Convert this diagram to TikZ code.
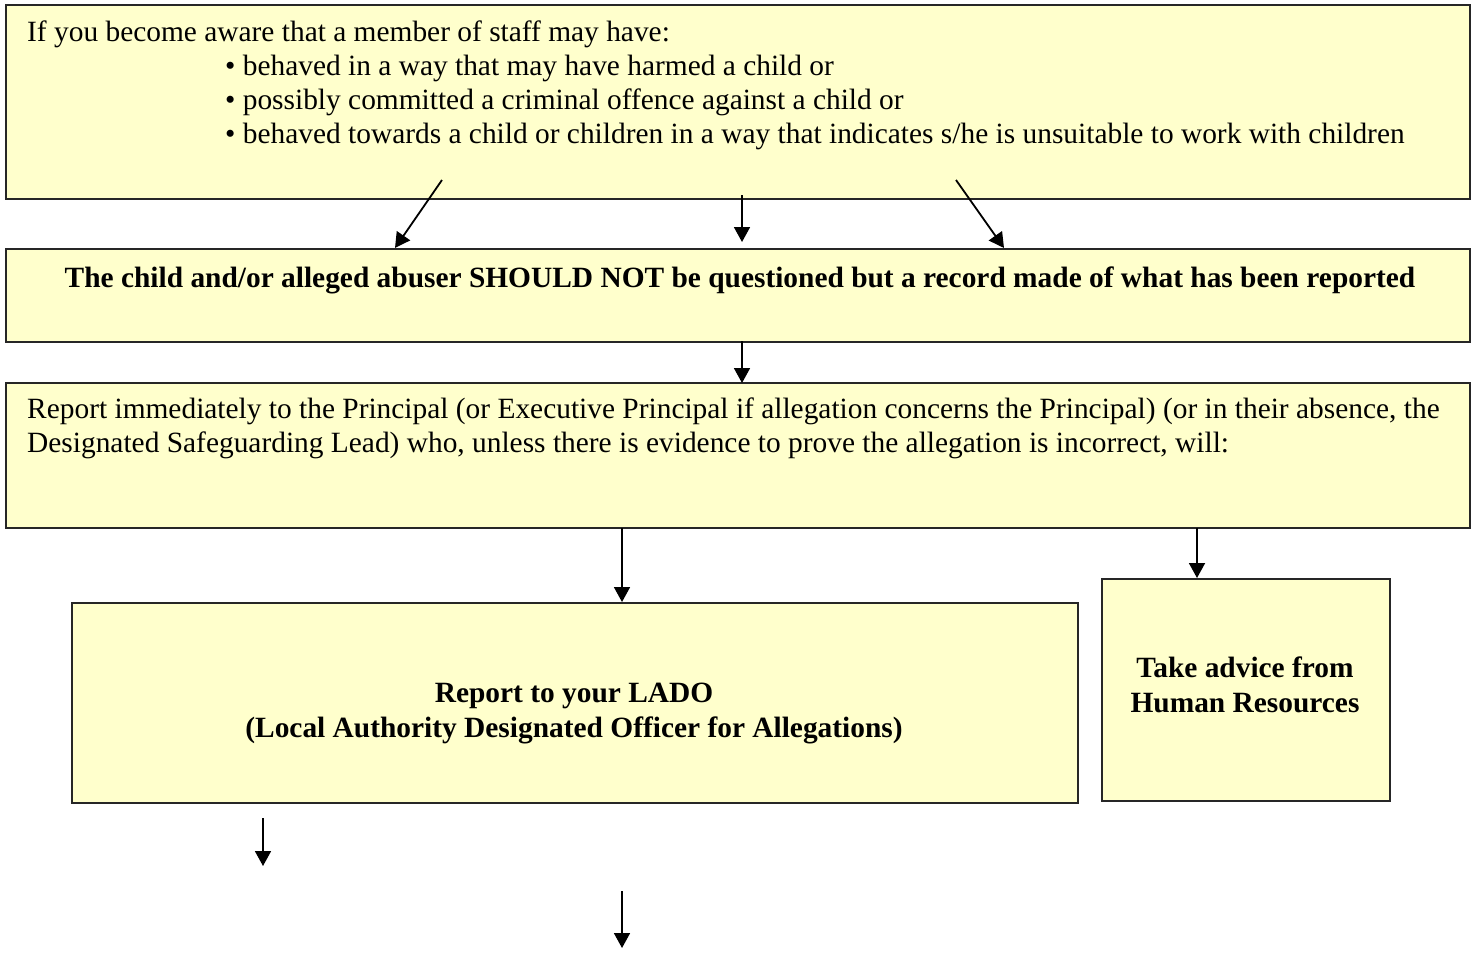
\documentclass[tikz,border=0pt]{standalone}
\usepackage{fontspec}
\setmainfont{Liberation Serif}
\usetikzlibrary{arrows.meta,positioning}
\definecolor{boxyellow}{HTML}{FFFFCC}
\tikzset{
	box/.style={draw=black!85, line width=1.8pt, fill=boxyellow, anchor=north west, inner sep=0pt},
	txt/.style={anchor=base west, inner sep=0pt, align=left, font=\fontsize{29.4}{34}\selectfont},
	btxt/.style={anchor=base, inner sep=0pt, align=center, font=\fontsize{29.4}{35}\selectfont\bfseries},
	arr/.style={-{Triangle[length=15pt,width=16pt]}, line width=1.8pt},
}

\begin{document}
\begin{tikzpicture}[x=1pt,y=-1pt]
	\useasboundingbox [fill=white] (0,0) rectangle (1472,956);

	\node [box, minimum width=1464pt, minimum height=194pt] (aware) at (5,4) {};
	\node [box, minimum width=1464pt, minimum height=93pt] (record) at (5,248) {};
	\node [box, minimum width=1464pt, minimum height=145pt] (principal) at (5,382) {};
	\node [box, minimum width=1006pt, minimum height=200pt] (lado) at (71,602) {};
	\node [box, minimum width=288pt, minimum height=222pt] (hr) at (1101,578) {};

	% multi-line texts sit on their last baseline
	\node [txt] (awaretxt) at (27,41) {If you become aware that a member of staff may have:};
	\node [txt] (bullets) at (225,143) {\textbullet{} behaved in a way that may have harmed a child or\\
		\textbullet{} possibly committed a criminal offence against a child or\\
		\textbullet{} behaved towards a child or children in a way that indicates s/he is unsuitable to work with children};
	\node [btxt] (recordtxt) at (740,287) {The child and/or alleged abuser SHOULD NOT be questioned but a record made of what has been reported};
	\node [txt] (principaltxt) at (27,452) {Report immediately to the Principal (or Executive Principal if allegation concerns the Principal) (or in their absence, the\\
		Designated Safeguarding Lead) who, unless there is evidence to prove the allegation is incorrect, will:};
	\node [btxt] (ladotxt) at (574,737) {Report to your LADO\\(Local Authority Designated Officer for Allegations)};
	\node [btxt] (hrtxt) at (1245,712) {Take advice from\\Human Resources};

	% arrow ends
	\coordinate (a1) at (442,180);
	\coordinate (b1) at (395,248);
	\coordinate (a2) at (742,195);
	\coordinate (b2) at (742,242);
	\coordinate (a3) at (956,180);
	\coordinate (b3) at (1004,248);
	\coordinate (c1) at (742,341);
	\coordinate (d1) at (742,383);
	\coordinate (e1) at (622,528);
	\coordinate (f1) at (622,602);
	\coordinate (e2) at (1197,528);
	\coordinate (f2) at (1197,578);
	\coordinate (g1) at (263,818);
	\coordinate (h1) at (263,866);
	\coordinate (g2) at (622,891);
	\coordinate (h2) at (622,948);

	\draw [arr] (a1) -- (b1);
	\draw [arr] (a2) -- (b2);
	\draw [arr] (a3) -- (b3);
	\draw [arr] (c1) -- (d1);
	\draw [arr] (e1) -- (f1);
	\draw [arr] (e2) -- (f2);
	\draw [arr] (g1) -- (h1);
	\draw [arr] (g2) -- (h2);

\end{tikzpicture}
\end{document}
